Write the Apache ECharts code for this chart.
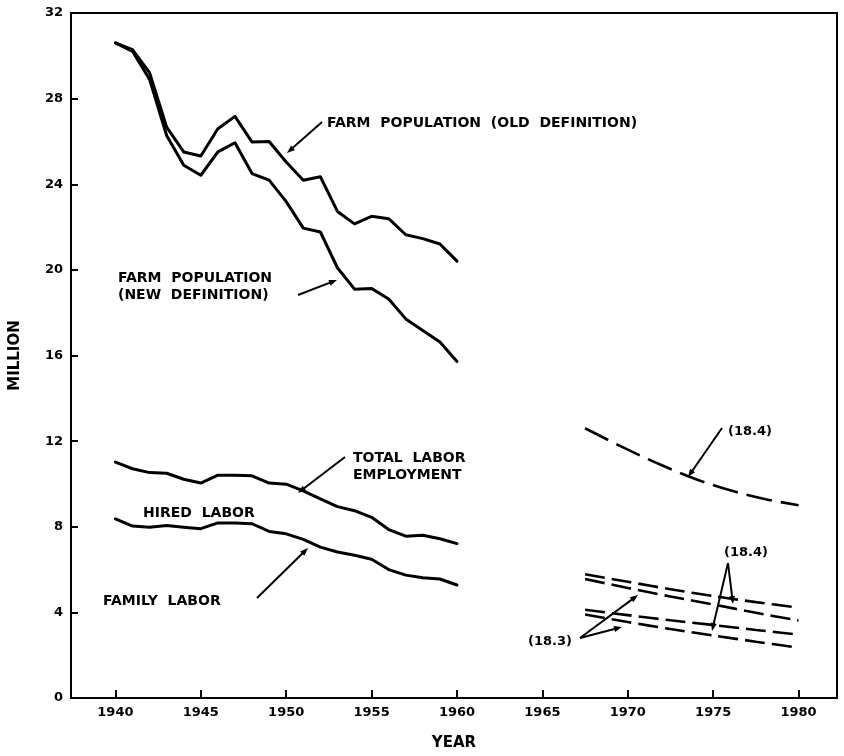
<!DOCTYPE html>
<html>
<head>
<meta charset="utf-8">
<script src="https://cdn.jsdelivr.net/npm/echarts@6/dist/echarts.min.js"></script>
<style>html,body{margin:0;padding:0;background:#fff;}#c{width:844px;height:756px;}</style>
</head>
<body>
<div id="c"></div>
<script>
// Years for historical series
const years = [1940,1941,1942,1943,1944,1945,1946,1947,1948,1949,1950,1951,1952,1953,1954,1955,1956,1957,1958,1959,1960];
const farmPopOld = [30.6,30.29,29.21,26.67,25.51,25.32,26.59,27.17,25.97,26.0,25.04,24.19,24.35,22.73,22.15,22.5,22.39,21.64,21.46,21.21,20.41];
const farmPopNew = [30.6,30.21,28.9,26.28,24.89,24.42,25.51,25.94,24.5,24.19,23.19,21.95,21.77,20.1,19.1,19.13,18.64,17.71,17.17,16.63,15.72];
const totalLabor = [11.02,10.71,10.53,10.5,10.22,10.04,10.41,10.41,10.38,10.04,9.99,9.68,9.3,8.94,8.75,8.44,7.87,7.56,7.6,7.44,7.21];
const familyLabor = [8.37,8.03,7.98,8.06,7.98,7.91,8.18,8.18,8.14,7.78,7.67,7.41,7.05,6.82,6.67,6.48,6.0,5.74,5.62,5.56,5.28];
// Projections
const projYears = [1967.5,1970,1972,1974,1976,1978,1980];
const projPop184 = [12.6,11.6,10.87,10.22,9.7,9.3,9.0];
const projYears2 = [1967.5,1970,1972.5,1975,1977.5,1980];
const projA184 = [5.78,5.43,5.08,4.76,4.48,4.22];
const projB184 = [5.56,5.14,4.74,4.37,3.98,3.62];
const projC183 = [4.12,3.87,3.63,3.41,3.18,2.96];
const projD183 = [3.90,3.55,3.22,2.92,2.63,2.35];
const xTicks = [1940,1945,1950,1955,1960,1965,1970,1975,1980];

const zip = (xs, ys) => xs.map((x, i) => [x, ys[i]]);
const FONT = '"DejaVu Sans", sans-serif';

function solid(name, xs, ys) {
  return { name, type: 'line', data: zip(xs, ys), showSymbol: false, symbol: 'none',
    lineStyle: { color: '#000', width: 3, join: 'round', cap: 'round' }, silent: true, animation: false };
}
function dashed(name, xs, ys, dash) {
  return { name, type: 'line', data: zip(xs, ys), smooth: 0.3, showSymbol: false, symbol: 'none',
    lineStyle: { color: '#000', width: 2.6, type: dash, cap: 'butt' }, silent: true, animation: false };
}

const chart = echarts.init(document.getElementById('c'), null, { renderer: 'canvas' });

function arrow(x1, y1, x2, y2) {
  const dx = x2 - x1, dy = y2 - y1, L = Math.hypot(dx, dy);
  const ux = dx / L, uy = dy / L, px = -uy, py = ux;
  const hl = 8, hw = 3;
  return [
    { type: 'line', shape: { x1, y1, x2: x2 - ux * 4, y2: y2 - uy * 4 }, style: { stroke: '#000', lineWidth: 2 } },
    { type: 'polygon', shape: { points: [[x2, y2], [x2 - ux * hl + px * hw, y2 - uy * hl + py * hw], [x2 - ux * hl - px * hw, y2 - uy * hl - py * hw]] }, style: { fill: '#000' } }
  ];
}
function txt(x, y, s, size) {
  return { type: 'text', x, y, style: { text: s, fill: '#000', font: 'bold ' + (size || 14) + 'px ' + FONT, verticalAlign: 'middle', align: 'left' } };
}

const graphics = [
  txt(327, 123, 'FARM  POPULATION  (OLD  DEFINITION)'),
  txt(118, 278, 'FARM  POPULATION'),
  txt(118, 295, '(NEW  DEFINITION)'),
  txt(353, 458, 'TOTAL  LABOR'),
  txt(353, 475, 'EMPLOYMENT'),
  txt(143, 513, 'HIRED  LABOR'),
  txt(103, 601, 'FAMILY  LABOR'),
  txt(728, 432, '(18.4)', 13),
  txt(724, 553, '(18.4)', 13),
  txt(528, 642, '(18.3)', 13),
  ...arrow(322, 122, 287, 153),
  ...arrow(298, 295, 337, 280),
  ...arrow(345, 457, 298, 493),
  ...arrow(257, 598, 308, 548),
  ...arrow(722, 428, 688, 477),
  ...arrow(728, 563, 733, 604),
  ...arrow(728, 563, 712, 631),
  ...arrow(580, 638, 638, 595),
  ...arrow(580, 638, 622, 627)
];

chart.setOption({
  animation: false,
  backgroundColor: '#fff',
  grid: { left: 68, right: 7, top: 13, bottom: 52, show: true, borderColor: '#000', borderWidth: 2 },
  xAxis: {
    type: 'value', min: 1937.4, max: 1982.25,
    name: 'YEAR', nameLocation: 'middle', nameGap: 38,
    nameTextStyle: { fontFamily: FONT, fontWeight: 'bold', fontSize: 15, color: '#000' },
    axisLine: { show: true, onZero: false, lineStyle: { color: '#000', width: 2 } },
    axisTick: { show: true, inside: true, length: 8, customValues: xTicks, lineStyle: { color: '#000', width: 2 } },
    axisLabel: { customValues: xTicks, margin: 8, color: '#000', fontFamily: FONT, fontWeight: 'bold', fontSize: 13, formatter: v => String(v) },
    splitLine: { show: false }
  },
  yAxis: {
    type: 'value', min: 0, max: 32, interval: 4,
    name: 'MILLION', nameLocation: 'middle', nameRotate: 90, nameGap: 48,
    nameTextStyle: { fontFamily: FONT, fontWeight: 'bold', fontSize: 15, color: '#000' },
    axisLine: { show: true, lineStyle: { color: '#000', width: 2 } },
    axisTick: { show: true, inside: true, length: 7, lineStyle: { color: '#000', width: 2 } },
    axisLabel: { margin: 8, color: '#000', fontFamily: FONT, fontWeight: 'bold', fontSize: 13 },
    splitLine: { show: false }
  },
  series: [
    solid('Farm population (old definition)', years, farmPopOld),
    solid('Farm population (new definition)', years, farmPopNew),
    solid('Total labor employment', years, totalLabor),
    solid('Family labor', years, familyLabor),
    dashed('Projection farm population (18.4)', projYears, projPop184, [26, 9]),
    dashed('Projection A (18.4)', projYears2, projA184, [20, 7]),
    dashed('Projection B (18.4)', projYears2, projB184, [20, 7]),
    dashed('Projection C (18.3)', projYears2, projC183, [20, 7]),
    dashed('Projection D (18.3)', projYears2, projD183, [20, 7])
  ],
  graphic: graphics
});
</script>
</body>
</html>
